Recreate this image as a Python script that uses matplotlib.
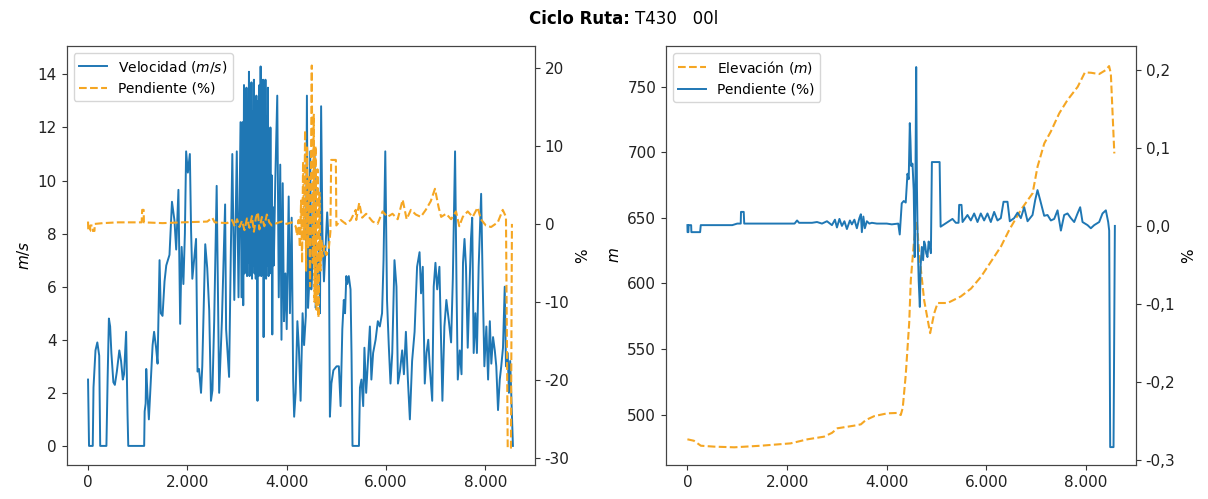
import matplotlib
matplotlib.use('Agg')
import matplotlib.pyplot as plt
from matplotlib.ticker import FuncFormatter, MultipleLocator

plt.rcParams['font.family'] = 'DejaVu Sans'
plt.rcParams['axes.unicode_minus'] = False

# --- datos ---
# velocidad (m/s) en funcion de la distancia
vel_x = [0, 20, 95, 110, 150, 187, 225, 245, 370, 395, 420, 445, 470, 510, 540, 580, 630, 665, 700, 725,
         767, 795, 810, 1130, 1140, 1160, 1172, 1195, 1225, 1265, 1300, 1330, 1370, 1400, 1440, 1465, 1500,
         1540, 1575, 1640, 1690, 1740, 1775, 1820, 1855, 1885, 1920, 1950, 1975, 2010, 2050, 2075, 2100,
         2175, 2205, 2235, 2275, 2300, 2360, 2400, 2440, 2475, 2505, 2540, 2590, 2640, 2695, 2760, 2780,
         2840, 2875, 2905, 2945, 2995, 3030, 3070, 3090, 3110, 3125,
         3140, 3152, 3165, 3177, 3190, 3202, 3215, 3227, 3240, 3252, 3265, 3277, 3290, 3302, 3315, 3327,
         3340, 3352, 3365, 3377, 3390, 3402, 3412, 3425, 3437, 3450, 3462, 3475, 3487, 3500, 3512, 3525,
         3535, 3547, 3560, 3572, 3585, 3597, 3610, 3622, 3635, 3647, 3660, 3672, 3685, 3697, 3710, 3722,
         3740, 3770, 3810, 3840, 3870, 3895, 3920, 3945, 3975, 4000, 4040, 4065, 4100, 4130, 4150, 4180,
         4215, 4245, 4280, 4320, 4350, 4385, 4407, 4430, 4450, 4473, 4495, 4520, 4560, 4585, 4615, 4650,
         4670, 4693, 4720, 4750, 4785, 4815, 4850, 4870, 4900, 4940, 5005, 5050, 5085, 5120, 5150, 5175,
         5200, 5220, 5250, 5285, 5305, 5325, 5455, 5475, 5505, 5540, 5565, 5600, 5635, 5675, 5705, 5740,
         5790, 5835, 5875, 5920, 5950, 5985, 6020, 6055, 6090, 6125, 6170, 6210, 6240, 6280, 6325, 6360,
         6400, 6440, 6480, 6525, 6575, 6625, 6675, 6705, 6740, 6780, 6815, 6850, 6880, 6930, 6960, 6995,
         7030, 7075, 7110, 7135, 7175, 7215, 7265, 7310, 7345, 7390, 7420, 7445, 7485, 7520, 7550, 7580,
         7610, 7645, 7680, 7710, 7735, 7765, 7800, 7830, 7865, 7915, 7945, 7980, 8020, 8055, 8090, 8120,
         8155, 8190, 8220, 8255, 8290, 8320, 8355, 8390, 8415, 8450, 8475, 8500, 8535, 8555]
velocidad = [2.5, 0, 0, 2.2, 3.6, 3.9, 3.4, 0, 0, 2.6, 4.8, 4.5, 3.5, 2.4, 2.3, 2.8, 3.6, 3.2, 2.5, 2.7,
             4.3, 1.2, 0, 0, 1.3, 1.6, 2.9, 2.0, 1.0, 2.5, 3.8, 4.3, 3.7, 3.1, 7.0, 5.0, 4.9,
             6.2, 6.8, 7.2, 9.2, 8.5, 7.4, 9.65, 4.6, 7.5, 6.1, 8.0, 11.1, 10.3, 11.0, 8.1, 6.3,
             7.8, 2.8, 2.9, 2.0, 3.0, 7.6, 6.7, 5.1, 1.7, 2.1, 4.7, 9.8, 2.0, 4.7, 9.1, 4.4,
             2.6, 7.3, 11.0, 5.5, 11.1, 5.6, 12.2, 5.6, 12.2, 5.3,
             13.6, 6.5, 12.8, 6.8, 13.5, 6.4, 12.5, 6.9, 14.1, 6.4, 13.0, 6.6, 13.7, 6.3, 12.6, 6.8,
             13.8, 6.5, 12.9, 6.3, 13.2, 6.6, 1.7, 13.0, 6.4, 13.6, 6.7, 14.3, 6.4, 13.1, 6.5, 13.8,
             4.1, 12.7, 6.6, 13.8, 6.3, 12.4, 6.8, 13.5, 6.4, 11.9, 6.6, 12.0, 6.5, 10.2, 4.2, 9.0,
             6.8, 10.0, 13.2, 5.6, 10.6, 4.0, 9.9, 4.7, 6.5, 4.4, 9.4, 5.0, 8.6, 2.5, 1.1, 2.0,
             4.7, 3.7, 1.7, 5.0, 3.8, 4.9, 13.2, 5.2, 6.0, 11.1, 5.9, 7.0, 11.1, 5.2, 6.5, 7.5,
             5.0, 12.8, 7.9, 6.2, 7.6, 8.8, 7.5, 1.1, 2.35, 2.85, 3.0, 3.0, 1.5, 4.4, 5.5, 5.0,
             6.4, 6.1, 6.4, 5.9, 3.5, 0, 0, 2.2, 2.5, 1.5, 3.7, 2.0, 3.2, 4.5, 2.5, 3.5,
             4.0, 4.7, 4.5, 5.0, 7.0, 11.1, 5.5, 3.8, 2.35, 3.5, 7.0, 6.0, 2.35, 2.8, 3.6, 2.7,
             4.3, 2.5, 1.0, 3.2, 4.3, 6.75, 7.3, 5.75, 6.75, 2.35, 3.5, 4.0, 3.0, 1.7, 6.0, 6.9,
             5.9, 6.75, 3.7, 1.7, 4.5, 5.5, 4.7, 3.9, 6.3, 11.1, 5.9, 2.5, 3.6, 2.7, 6.9, 7.8,
             6.75, 3.7, 5.9, 7.8, 8.6, 3.5, 5.0, 3.5, 6.75, 9.5, 6.3, 3.0, 4.5, 2.5, 4.7, 3.1,
             4.1, 3.6, 3.0, 1.35, 2.5, 3.0, 3.7, 6.0, 3.0, 3.5, 2.0, 3.2, 1.2, 0]

# pendiente (%) del grafico de la izquierda
pend_x = [0, 5, 40, 45, 90, 95, 130, 135, 300, 600, 1080, 1090, 1120, 1125, 1500, 1900, 2400, 2500, 2550,
          2800, 2900, 2950, 3000, 3050, 3100, 3150, 3200, 3250, 3300, 3340, 3380, 3420, 3450, 3500, 3550,
          3600, 3650, 3700, 3800, 3900, 4000, 4100, 4180, 4210, 4240, 4265, 4290, 4310, 4330, 4350, 4370,
          4390, 4410, 4430, 4450, 4470, 4490, 4505, 4525, 4545, 4560, 4580, 4600, 4620, 4640, 4660, 4680,
          4700, 4720, 4760, 4800, 4850, 4880, 4895, 4990, 5000, 5090, 5190, 5290, 5390, 5400, 5460, 5520,
          5600, 5730, 5830, 5930, 6030, 6130, 6235, 6335, 6415, 6500, 6600, 6700, 6800, 6900, 6985, 7060,
          7110, 7210, 7310, 7410, 7475, 7545, 7645, 7745, 7845, 7910, 8010, 8115, 8250, 8350, 8415, 8450,
          8515, 8535]
pend_pct = [0.3, -0.9, -0.9, -0.2, -0.2, -0.9, -0.9, 0, 0.1, 0.2, 0.2, 1.8, 1.8, 0.2, 0.1, 0.2, 0.3, 0.8, 0.2,
            0.1, 0.5, -0.3, 0.6, -0.4, 0.4, -0.8, 0.7, -0.5, 1.0, -1.0, 0.8, 1.5, -0.7, 0.9, -0.3,
            1.2, 0.2, -0.2, 0.1, 0.3, 0.0, 0.2, -0.3, -1.5, 0.5, -3.0, 3.0, -5.0, 8.0, -2.0, 12.0,
            -6.0, 10.0, -3.0, 6.0, -8.0, 9.0, 20.3, -5.0, 14.0, -10.0, 10.0, -11.0, 7.0, -12.0, 4.0, -6.0,
            -2.0, -4.2, -2.8, -4.0, -3.0, -1.0, 8.2, 8.2, -0.2, 0.5, 0.0, 0.5, 1.8, 0.5, 2.7, 0.8,
            1.3, 0.3, 0.0, 1.6, 0.9, 1.3, 0.6, 3.1, 0.6, 1.8, 1.2, 0.9, 1.8, 2.9, 4.5, 2.1,
            0.9, 1.3, 0.6, 1.6, -0.3, 0.9, 1.6, 0.9, 2.1, 0.6, -0.2, -0.4, 0.2, 1.8, 0.9, -28.7,
            -28.7, 0.0]

# elevacion (m) del grafico de la derecha
elev_x = [0, 130, 270, 540, 940, 1470, 2070, 2410, 2740, 2900, 3010, 3345, 3480, 3580, 3750, 4010, 4215,
          4280, 4320, 4380, 4450, 4482, 4548, 4600, 4650, 4750, 4870, 4950, 5020, 5220, 5485, 5690, 5890,
          6090, 6290, 6455, 6690, 6925, 7025, 7160, 7290, 7460, 7625, 7830, 7975, 8100, 8260, 8395, 8460,
          8495, 8565]
elevacion = [481.1, 480.0, 476.2, 475.5, 475.0, 476.2, 478.0, 481.1, 483.1, 486.0, 489.5, 491.5, 492.5,
             495.8, 498.8, 500.9, 501.2, 499.6, 505.0, 530.0, 570.0, 602.5, 633.0, 648.0, 623.0, 587.0,
             562.0, 577.0, 585.0, 585.0, 590.0, 596.0, 605.0, 616.5, 628.0, 640.6, 656.0, 668.6, 689.0,
             706.7, 715.6, 729.6, 739.7, 749.8, 760.8, 760.5, 759.5, 762.6, 765.6, 760.0, 699.0]

# pendiente (fraccion) del grafico de la derecha
pend2_x = [0, 3, 20, 25, 75, 80, 255, 268, 600, 900, 1000, 1070, 1075, 1130, 1140, 1800, 2150, 2200, 2240,
           2500, 2600, 2700, 2800, 2900, 2960, 3000, 3050, 3100, 3150, 3200, 3260, 3300, 3350, 3400, 3450,
           3480, 3500, 3530, 3560, 3600, 3650, 3700, 3800, 3900, 4000, 4100, 4230, 4260, 4300, 4340, 4380,
           4415, 4440, 4462, 4475, 4489, 4516, 4540, 4560, 4575, 4590, 4605, 4620, 4640, 4663, 4680, 4703,
           4729, 4750, 4769, 4790, 4816, 4840, 4863, 4885, 4905, 5060, 5080, 5200, 5318, 5385, 5440, 5452,
           5499, 5520, 5619, 5686, 5753, 5820, 5886, 5953, 6020, 6087, 6154, 6221, 6288, 6342, 6422, 6468,
           6555, 6623, 6690, 6757, 6824, 6924, 6977, 7024, 7078, 7158, 7225, 7292, 7359, 7426, 7493, 7559,
           7626, 7693, 7760, 7827, 7880, 7927, 8028, 8094, 8161, 8261, 8328, 8395, 8442, 8462, 8482, 8549,
           8576]
pend2 = [0.001, -0.008, -0.008, 0.001, 0.001, -0.008, -0.008, 0.001, 0.001, 0.001, 0.003, 0.003, 0.018,
         0.018, 0.003, 0.003, 0.003, 0.007, 0.004, 0.004, 0.005, 0.003, 0.006, 0.001, 0.008, -0.002, 0.009,
         0.0, 0.006, -0.004, 0.007, 0.002, 0.008, -0.003, 0.010, 0.015, -0.008, 0.012, -0.003, 0.006, 0.003,
         0.004, 0.003, 0.003, 0.003, 0.002, 0.003, -0.011, 0.029, 0.032, 0.030, 0.067, 0.060, 0.132, 0.110,
         0.077, 0.080, 0.046, -0.040, 0.060, 0.204, 0.050, -0.018, -0.070, -0.104, -0.050, -0.027, -0.044,
         -0.020, -0.024, -0.035, -0.040, -0.020, -0.027, -0.035, 0.082, 0.082, -0.001, 0.004, 0.009, 0.004,
         0.004, 0.027, 0.027, 0.005, 0.014, 0.007, 0.016, 0.005, 0.016, 0.007, 0.016, 0.005, 0.018, 0.007,
         0.010, 0.031, 0.031, 0.006, 0.010, 0.017, 0.010, 0.024, 0.006, 0.014, 0.033, 0.046, 0.033, 0.013,
         0.014, 0.007, 0.009, 0.020, -0.006, 0.014, 0.016, 0.010, 0.005, 0.016, 0.024, 0.005, 0.001, -0.003,
         0.001, 0.005, 0.016, 0.020, 0.005, -0.006, -0.284, -0.284, 0.000]

azul = '#1f77b4'
naranja = '#f5a623'

miles = FuncFormatter(lambda v, p: f'{int(round(v)):,}'.replace(',', '.'))
coma = FuncFormatter(lambda v, p: f'{v:.1f}'.replace('.', ','))

fig = plt.figure(figsize=(12.08, 4.99), dpi=100)

# titulo en dos partes (negrita + normal)
fig.text(0.5215, 0.962, 'Ciclo Ruta:', ha='right', va='center', fontsize=12, fontweight='bold')
fig.text(0.5255, 0.962, 'T430   00l', ha='left', va='center', fontsize=12)

# ---- grafico izquierdo ----
ax1 = fig.add_axes([0.0552, 0.0681, 0.3877, 0.8397])
l1, = ax1.plot(vel_x, velocidad, color=azul, lw=1.4, label='Velocidad ($m/s$)')
ax1.set_xlim(-430, 9000)
ax1.set_ylim(-0.72, 15.07)
ax1.yaxis.set_major_locator(MultipleLocator(2))
ax1.xaxis.set_major_locator(MultipleLocator(2000))
ax1.xaxis.set_major_formatter(miles)
ax1.set_ylabel('$m/s$', fontsize=11)

ax1b = ax1.twinx()
l2, = ax1b.plot(pend_x, pend_pct, color=naranja, lw=1.5, ls='--', label='Pendiente (%)')
ax1b.set_ylim(-30.9, 22.8)
ax1b.yaxis.set_major_locator(MultipleLocator(10))
ax1b.set_ylabel('%', fontsize=11)
ax1b.legend(handles=[l1, l2], loc='upper left', fontsize=10)

# ---- grafico derecho ----
ax2 = fig.add_axes([0.5513, 0.0681, 0.3891, 0.8397])
l3, = ax2.plot(elev_x, elevacion, color=naranja, lw=1.5, ls='--', label='Elevación ($m$)')
ax2.set_xlim(-430, 9000)
ax2.set_ylim(461.5, 780.9)
ax2.yaxis.set_major_locator(MultipleLocator(50))
ax2.xaxis.set_major_locator(MultipleLocator(2000))
ax2.xaxis.set_major_formatter(miles)
ax2.set_ylabel('$m$', fontsize=11)

ax2b = ax2.twinx()
l4, = ax2b.plot(pend2_x, pend2, color=azul, lw=1.4, label='Pendiente (%)')
ax2b.set_ylim(-0.307, 0.231)
ax2b.yaxis.set_major_locator(MultipleLocator(0.1))
ax2b.yaxis.set_major_formatter(coma)
ax2b.set_ylabel('%', fontsize=11)
ax2b.legend(handles=[l3, l4], loc='upper left', fontsize=10)

for ax in [ax1, ax1b, ax2, ax2b]:
    ax.tick_params(labelsize=11, colors='#333333', labelcolor='#222222')
    for s in ax.spines.values():
        s.set_color('#444444')

plt.savefig('out.png', dpi=100)
